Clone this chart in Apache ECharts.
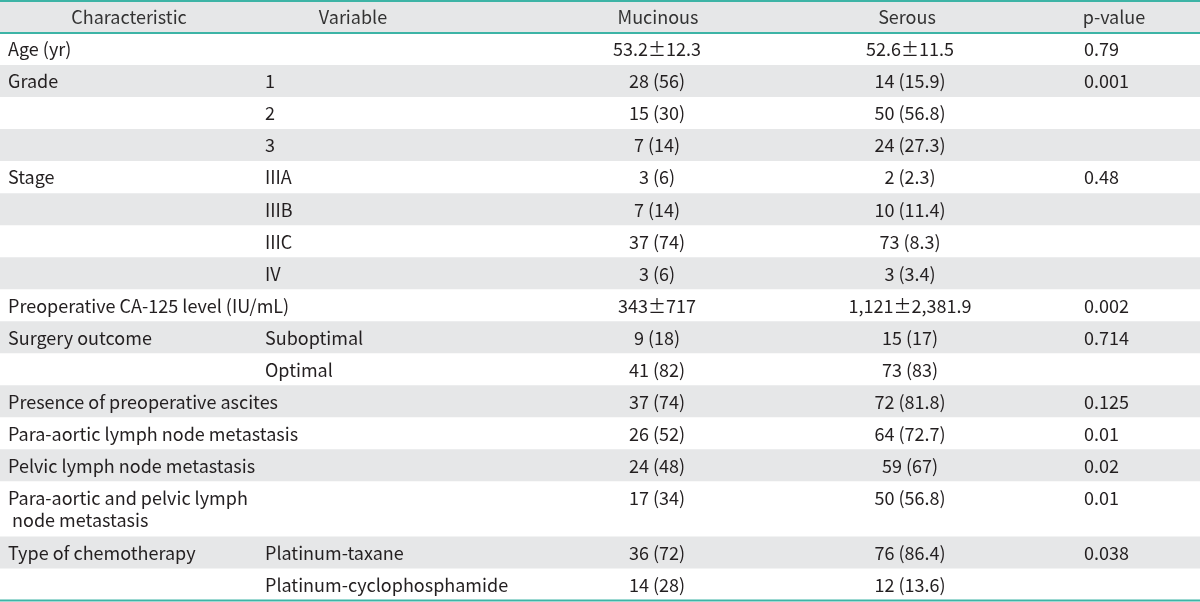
<!DOCTYPE html>
<html><head><meta charset="utf-8">
<script src="https://cdn.jsdelivr.net/npm/echarts@6/dist/echarts.min.js"></script>
<style>html,body{margin:0;padding:0;background:#fff}#c{width:1200px;height:602px}</style>
</head><body><div id="c"></div>
<script>
const headers = ['Characteristic', 'Variable', 'Mucinous', 'Serous', 'p-value'];
const characteristic = ['Age (yr)', 'Grade', '', '', 'Stage', '', '', '', 'Preoperative CA-125 level (IU/mL)', 'Surgery outcome', '', 'Presence of preoperative ascites', 'Para-aortic lymph node metastasis', 'Pelvic lymph node metastasis', 'Para-aortic and pelvic lymph\n node metastasis', 'Type of chemotherapy', ''];
const variable = ['', '1', '2', '3', 'IIIA', 'IIIB', 'IIIC', 'IV', '', 'Suboptimal', 'Optimal', '', '', '', '', 'Platinum-taxane', 'Platinum-cyclophosphamide'];
const mucinous = ['53.2±12.3', '28 (56)', '15 (30)', '7 (14)', '3 (6)', '7 (14)', '37 (74)', '3 (6)', '343±717', '9 (18)', '41 (82)', '37 (74)', '26 (52)', '24 (48)', '17 (34)', '36 (72)', '14 (28)'];
const serous = ['52.6±11.5', '14 (15.9)', '50 (56.8)', '24 (27.3)', '2 (2.3)', '10 (11.4)', '73 (8.3)', '3 (3.4)', '1,121±2,381.9', '15 (17)', '73 (83)', '72 (81.8)', '64 (72.7)', '59 (67)', '50 (56.8)', '76 (86.4)', '12 (13.6)'];
const pValue = ['0.79', '0.001', '', '', '0.48', '', '', '', '0.002', '0.714', '', '0.125', '0.01', '0.02', '0.01', '0.038', ''];

// ---- layout / style ----
const FONT_FAMILY = '"Noto Sans CJK JP", "Noto Sans", sans-serif';
const FONT_SIZE = 18;
const LINE_H = 22;
const TEXT_COLOR = '#231f20';
const BAND_COLOR = '#e6e7e8';
const RULE_COLOR = '#3db4a6';
const EXTRA_LINE = 0.72;
const headerAnchors = [129, 353, 658, 907, 1114];
const cellAnchors = [
  {x: 8, align: 'left'}, {x: 265, align: 'left'},
  {x: 657, align: 'center'}, {x: 910, align: 'center'}, {x: 1084, align: 'left'}
];

const rows = characteristic.map((c, i) => [c, variable[i], mucinous[i], serous[i], pValue[i]]);
const lineCount = rows.map(r => Math.max(...r.map(s => s.split('\n').length)));
const rowData = [[0, 1, -1]];
let acc = 1;
lineCount.forEach((n, i) => { const h = 1 + (n - 1) * EXTRA_LINE; rowData.push([acc, acc + h, i]); acc += h; });
const total = acc;

function renderRow(params, api) {
  const top = api.value(0), bottom = api.value(1), idx = api.value(2);
  const p0 = api.coord([0, top]);
  const p1 = api.coord([1200, bottom]);
  const unitPx = api.size([0, 1])[1];
  const children = [];
  const gray = idx === -1 || idx % 2 === 1;
  if (gray) {
    children.push({type: 'rect', shape: {x: p0[0], y: p0[1], width: p1[0] - p0[0], height: p1[1] - p0[1]},
      style: {fill: BAND_COLOR}, silent: true});
  }
  const ty = p0[1] + (unitPx - LINE_H) / 2 + 0.5;
  const cells = idx === -1 ? headers : rows[idx];
  cells.forEach((txt, c) => {
    if (!txt) return;
    const a = idx === -1 ? {x: headerAnchors[c], align: 'center'} : cellAnchors[c];
    const px = api.coord([a.x, top])[0];
    children.push({type: 'text', x: px, y: ty, silent: true,
      style: {text: txt, align: a.align, verticalAlign: 'top', lineHeight: LINE_H,
        font: FONT_SIZE + 'px ' + FONT_FAMILY, fill: idx === -1 ? '#333333' : TEXT_COLOR}});
  });
  return {type: 'group', children};
}

function renderRule(params, api) {
  const y = api.value(0);
  const a = api.coord([0, y]), b = api.coord([1200, y]);
  return {type: 'line', shape: {x1: a[0], y1: a[1], x2: b[0], y2: b[1]},
    style: {stroke: RULE_COLOR, lineWidth: 2}, silent: true};
}

const chart = echarts.init(document.getElementById('c'), null, {renderer: 'canvas'});
chart.setOption({
  animation: false,
  backgroundColor: '#ffffff',
  grid: {left: 0, right: 0, top: 1, bottom: 1.5},
  xAxis: {type: 'value', min: 0, max: 1200, show: false},
  yAxis: {type: 'value', min: 0, max: total, inverse: true, show: false},
  series: [
    {type: 'custom', renderItem: renderRow, data: rowData, clip: false, z: 1},
    {type: 'custom', renderItem: renderRule, data: [[0], [1], [total]], clip: false, z: 2}
  ]
});
</script></body></html>
